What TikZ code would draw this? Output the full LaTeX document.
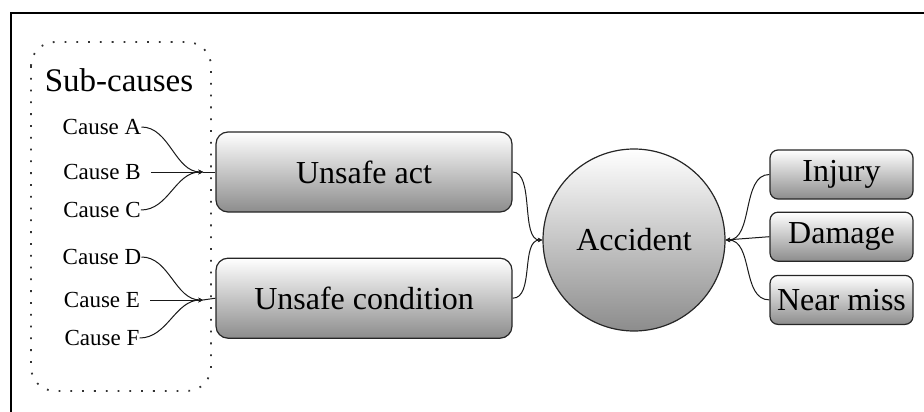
\documentclass[tikz,border=0pt]{standalone}
\usepackage{fontspec}
\setmainfont{Liberation Serif}
\usetikzlibrary{positioning}

\tikzset{
	hop/.style={draw=black!85, line width=1.2pt, top color=white, bottom color=black!45,
		font=\fontsize{32}{36}\selectfont, inner sep=0pt},
	nguyennhan/.style={hop, rounded corners=12pt, minimum width=296pt, minimum height=80pt},
	ketqua/.style={hop, rounded corners=8pt, minimum width=143pt, minimum height=49pt},
	tentxt/.style={font=\fontsize{23}{25}\selectfont, inner sep=0pt},
	noi/.style={line width=1pt, black!90}
}

\begin{document}
\begin{tikzpicture}[>=stealth, x=1pt, y=-1pt]
	\def\nhanh[#1](#2)(#3){
		\draw[noi, #1](#2) .. controls +(28,0) and +(-28,0) .. (#3);}
	\useasboundingbox (0,0) rectangle (924,412);
	% khung
	\draw[line width=2.2pt] (924,13) -- (11,13) -- (11,412);
	\draw[black!80, line width=1.8pt, dash pattern=on 1.8pt off 10pt, rounded corners=24pt]
		(31,42) rectangle (211,391);
	\node[font=\fontsize{33}{36}\selectfont, inner sep=0pt] (sub) at (119,80) {Sub-causes};
	% cac nguyen nhan
	\foreach \n/\y in {A/127,B/172,C/210,D/257,E/300,F/338}
		\node[tentxt] (c\n) at (102,\y) {Cause \n};
	\coordinate (j1) at (203,172);
	\coordinate (j2) at (203,300);
	\node[nguyennhan] (act) at (364,172) {Unsafe act};
	\node[nguyennhan, below=45pt of act] (cond) {Unsafe condition};
	\node[hop, circle, minimum size=182pt] (acc) at (634,240) {Accident};
	\node[ketqua] (inj) at (841.5,174.5) {Injury};
	\node[ketqua, below=12pt of inj] (dmg) {Damage};
	\node[ketqua, below=13pt of dmg] (near) {Near miss};
	% cac nhanh
	\nhanh[->](cA.east)(j1)
	\nhanh[->](cC.east)(j1)
	\draw[noi, ->] ([xshift=10pt]cB.east) -- (j1);
	\draw[noi] (j1) -- (act.west);
	\nhanh[->](cD.east)(j2)
	\nhanh[->](cF.east)(j2)
	\draw[noi, ->] ([xshift=10pt]cE.east) -- (j2);
	\draw[noi] (j2) -- (cond.west);
	\draw[noi, ->] (act.east) .. controls +(22,0) and +(-22,0) .. (acc.west);
	\draw[noi, ->] (cond.east) .. controls +(22,0) and +(-22,0) .. (acc.west);
	\draw[noi, ->] (inj.west) .. controls +(-28,0) and +(28,0) .. (acc.east);
	\draw[noi, ->] (dmg.west) -- (acc.east);
	\draw[noi, ->] (near.west) .. controls +(-28,0) and +(28,0) .. (acc.east);
\end{tikzpicture}
\end{document}
